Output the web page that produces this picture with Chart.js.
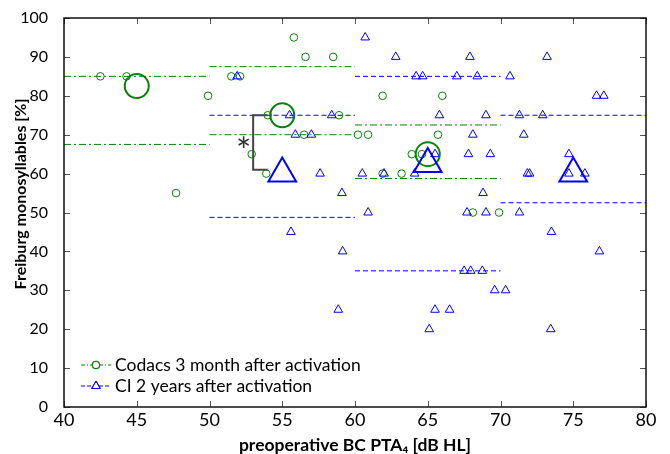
<!DOCTYPE html>
<html>
<head>
<meta charset="utf-8">
<script src="https://cdn.jsdelivr.net/npm/chart.js"></script>
<style>
  html, body { margin: 0; padding: 0; background: #fff; }
</style>
</head>
<body>
<canvas id="chart" width="670" height="454"></canvas>
<script>
// Codacs 3 month after activation (single patients)
var codacsX = [42.5, 44.3, 47.7, 49.9, 51.5, 52.1, 52.9, 53.9, 54.0, 55.8, 56.5, 56.6, 58.5, 58.9, 60.2, 60.9, 61.9, 61.9, 63.2, 63.9, 64.6, 65.7, 66.0, 68.1, 69.9];
var codacsY = [85, 85, 55, 80, 85, 85, 65, 60, 75, 95, 70, 90, 90, 75, 70, 70, 80, 60, 60, 65, 65, 70, 80, 50, 50];

// CI 2 years after activation (single patients)
var ciX = [51.9, 55.5, 55.6, 55.9, 57.0, 57.6, 58.4, 58.85, 59.1, 59.15, 60.5, 60.7, 60.9, 62.0, 62.8, 64.1, 64.2, 64.65,
           65.1, 65.5, 65.5, 65.8, 66.5, 67.0, 67.5, 67.7, 67.8, 67.9, 67.95, 68.1, 68.4, 68.75, 68.8, 69.0, 69.0, 69.3,
           69.6, 70.35, 70.65, 71.3, 71.3, 71.6, 71.85, 72.0, 72.9, 73.2, 73.45, 73.5, 74.7, 74.7, 75.8, 76.6, 76.8, 77.1];
var ciY = [85, 75, 45, 70, 70, 60, 75, 25, 55, 40, 60, 95, 50, 60, 90, 60, 85, 85,
           20, 25, 65, 75, 25, 85, 35, 50, 65, 90, 35, 70, 85, 35, 55, 75, 50, 65,
           30, 30, 85, 75, 50, 70, 60, 60, 75, 90, 20, 45, 65, 60, 60, 80, 40, 80];

// medians per 10 dB bin
var codacsBinCenter = [45, 55, 65];
var codacsMedian = [82.5, 75, 65];
var ciBinCenter = [55, 65, 75];
var ciMedian = [60, 62.5, 60];

// quartile lines per bin
var codacsBinStart = [40, 50, 60];
var codacsBinEnd = [50, 60, 70];
var codacsQ1 = [67.5, 70, 58.75];
var codacsQ3 = [85, 87.5, 72.5];
var ciBinStart = [50, 60, 70];
var ciBinEnd = [60, 70, 80];
var ciQ1 = [48.75, 35, 52.5];
var ciQ3 = [75, 85, 75];

// significance bracket
var bracketX = [54, 53, 53, 54];
var bracketY = [75, 75, 61, 61];
var starX = 52.35;
var starY = 67.7;

var xTicks = [40, 45, 50, 55, 60, 65, 70, 75, 80];
var yTicks = [0, 10, 20, 30, 40, 50, 60, 70, 80, 90, 100];
var yTitle = 'Freiburg monosyllables [%]';

var green = 'rgb(10,128,10)';
var blue = 'rgb(0,0,255)';
var fontFamily = 'Lato, "Open Sans", sans-serif';

function toPoints(xs, ys) {
    return xs.map(function (x, i) { return { x: x, y: ys[i] }; });
}

var datasets = [];

// quartile lines
function addLines(starts, ends, values, color, dash) {
    values.forEach(function (v, i) {
        datasets.push({
            type: 'line',
            data: [{ x: starts[i], y: v }, { x: ends[i], y: v }],
            borderColor: color,
            borderWidth: 1,
            borderDash: dash,
            pointRadius: 0,
            fill: false,
            order: 5
        });
    });
}
addLines(codacsBinStart, codacsBinEnd, codacsQ1, green, [7, 3, 2, 3]);
addLines(codacsBinStart, codacsBinEnd, codacsQ3, green, [7, 3, 2, 3]);
addLines(ciBinStart, ciBinEnd, ciQ1, blue, [5, 3]);
addLines(ciBinStart, ciBinEnd, ciQ3, blue, [5, 3]);

datasets.push({
    type: 'line',
    data: toPoints(bracketX, bracketY),
    borderColor: '#444',
    borderWidth: 2,
    pointRadius: 0,
    fill: false,
    tension: 0,
    order: 4
});

datasets.push({
    type: 'scatter',
    data: toPoints(codacsX, codacsY),
    pointStyle: 'circle',
    pointRadius: 3.8,
    borderWidth: 1,
    borderColor: green,
    backgroundColor: 'rgba(0,0,0,0)',
    order: 3
});
datasets.push({
    type: 'scatter',
    data: toPoints(ciX, ciY),
    pointStyle: 'triangle',
    pointRadius: 5,
    borderWidth: 1,
    borderColor: blue,
    backgroundColor: 'rgba(0,0,0,0)',
    order: 2
});
datasets.push({
    type: 'scatter',
    data: toPoints(codacsBinCenter, codacsMedian),
    pointStyle: 'circle',
    pointRadius: 12,
    borderWidth: 2,
    borderColor: green,
    backgroundColor: 'rgba(0,0,0,0)',
    order: 1
});
datasets.push({
    type: 'scatter',
    data: toPoints(ciBinCenter, ciMedian),
    pointStyle: 'triangle',
    pointRadius: 16,
    borderWidth: 2,
    borderColor: blue,
    backgroundColor: 'rgba(0,0,0,0)',
    order: 0
});

// frame, inward ticks, y title, legend and asterisk
var decorations = {
    id: 'decorations',
    afterDatasetsDraw: function (chart) {
        var ctx = chart.ctx;
        var a = chart.chartArea;
        var xs = chart.scales.x, ys = chart.scales.y;
        ctx.save();

        ctx.fillStyle = '#333';
        ctx.font = '36px ' + fontFamily;
        ctx.textAlign = 'center';
        ctx.textBaseline = 'middle';
        ctx.fillText('*', xs.getPixelForValue(starX), ys.getPixelForValue(starY) + 9);

        ctx.strokeStyle = '#555';
        ctx.lineWidth = 1;
        xTicks.forEach(function (t) {
            var px = Math.round(xs.getPixelForValue(t)) + 0.5;
            ctx.beginPath();
            ctx.moveTo(px, a.top); ctx.lineTo(px, a.top + 6);
            ctx.moveTo(px, a.bottom); ctx.lineTo(px, a.bottom - 6);
            ctx.stroke();
        });
        yTicks.forEach(function (t) {
            var py = Math.round(ys.getPixelForValue(t)) + 0.5;
            ctx.beginPath();
            ctx.moveTo(a.left, py); ctx.lineTo(a.left + 6, py);
            ctx.moveTo(a.right, py); ctx.lineTo(a.right - 6, py);
            ctx.stroke();
        });

        ctx.strokeStyle = '#111';
        ctx.lineWidth = 1.5;
        ctx.strokeRect(a.left, a.top, a.right - a.left, a.bottom - a.top);

        // y axis title (sits a bit above the axis centre in the original)
        ctx.save();
        ctx.translate(21, 194);
        ctx.rotate(-Math.PI / 2);
        ctx.fillStyle = '#000';
        ctx.font = 'bold 16px ' + fontFamily;
        ctx.textAlign = 'center';
        ctx.textBaseline = 'middle';
        ctx.fillText(yTitle, 0, 0);
        ctx.restore();

        // legend
        var rows = [
            { text: 'Codacs 3 month after activation', color: green, dash: [4, 2, 1, 2], style: 'circle', r: 3.8, y: 365 },
            { text: 'CI 2 years after activation', color: blue, dash: [4, 2], style: 'triangle', r: 5, y: 386 }
        ];
        rows.forEach(function (row) {
            ctx.strokeStyle = row.color;
            ctx.lineWidth = 1;
            ctx.setLineDash(row.dash);
            ctx.beginPath();
            ctx.moveTo(81, row.y); ctx.lineTo(111, row.y);
            ctx.stroke();
            ctx.setLineDash([]);
            ctx.fillStyle = '#fff';
            Chart.helpers.drawPoint(ctx, { pointStyle: row.style, radius: row.r, borderWidth: 1, rotation: 0 }, 96, row.y);
            ctx.stroke();
            ctx.fillStyle = '#000';
            ctx.font = '17.5px ' + fontFamily;
            ctx.textAlign = 'left';
            ctx.textBaseline = 'middle';
            ctx.fillText(row.text, 115, row.y);
        });
        ctx.restore();
    }
};

new Chart(document.getElementById('chart').getContext('2d'), {
    type: 'scatter',
    data: { datasets: datasets },
    options: {
        responsive: false,
        animation: false,
        layout: { padding: { top: 18, right: 24, left: 0, bottom: 0 } },
        plugins: {
            legend: { display: false },
            tooltip: { enabled: false }
        },
        scales: {
            x: {
                type: 'linear',
                min: 40,
                max: 80,
                afterFit: function (scale) { scale.height = 47; },
                afterBuildTicks: function (scale) { scale.ticks = xTicks.map(function (v) { return { value: v }; }); },
                grid: { display: false },
                border: { display: false },
                ticks: { color: '#000', font: { family: fontFamily, size: 18 }, padding: -6, maxRotation: 0 },
                title: {
                    display: true,
                    text: 'preoperative BC PTA\u2084 [dB HL]',
                    color: '#000',
                    font: { family: fontFamily, size: 17.5, weight: 'bold' },
                    padding: { top: 0, bottom: -2 }
                }
            },
            y: {
                min: 0,
                max: 100,
                afterFit: function (scale) { scale.width = 64; },
                afterBuildTicks: function (scale) { scale.ticks = yTicks.map(function (v) { return { value: v }; }); },
                grid: { display: false },
                border: { display: false },
                ticks: { color: '#000', font: { family: fontFamily, size: 16 }, padding: 8 }
            }
        }
    },
    plugins: [decorations]
});
</script>
</body>
</html>
